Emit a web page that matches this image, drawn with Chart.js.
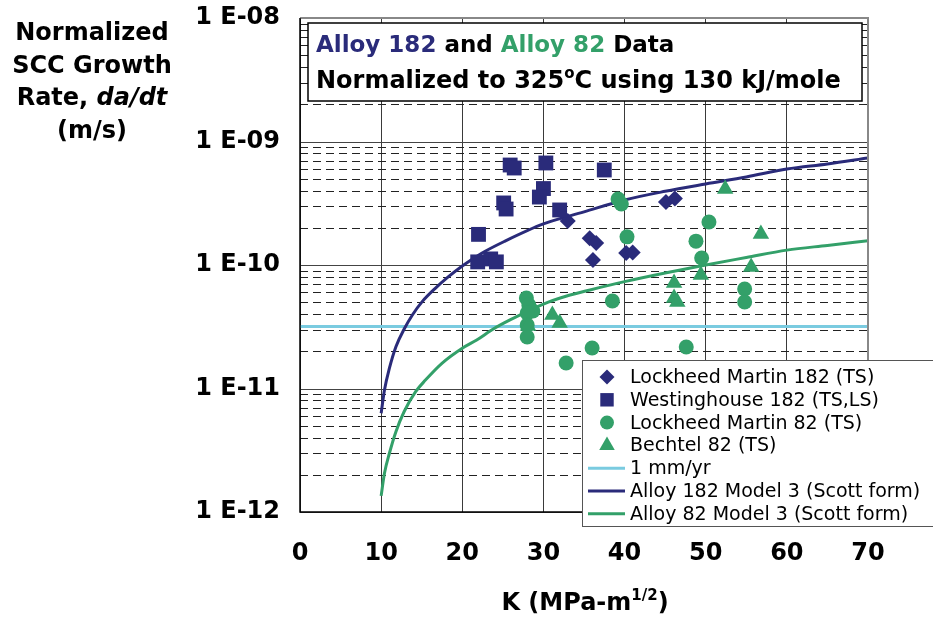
<!DOCTYPE html>
<html>
<head>
<meta charset="utf-8">
<title>Normalized SCC growth rate vs K</title>
<script src="https://cdn.jsdelivr.net/npm/chart.js@4.4.1/dist/chart.umd.min.js"></script>
<style>
  body { margin: 0; background: #fff; }
</style>
</head>
<body>
<canvas id="scc-chart" width="933" height="617"></canvas>
<script>
// K in MPa-m^1/2, normalized da/dt in m/s
const lm182K = [33.0, 35.7, 36.5, 36.1, 40.2, 41.0, 45.1, 46.2];
const lm182Rate = [2.27e-10, 1.65e-10, 1.51e-10, 1.10e-10, 1.25e-10, 1.26e-10, 3.24e-10, 3.45e-10];

const wes182K = [25.9, 26.4, 30.3, 37.5, 30.0, 29.5, 25.1, 25.4, 32.0, 22.0, 21.9, 23.5, 24.2];
const wes182Rate = [6.45e-10, 6.1e-10, 6.7e-10, 5.88e-10, 4.16e-10, 3.55e-10, 3.18e-10, 2.84e-10, 2.79e-10, 1.77e-10, 1.06e-10, 1.12e-10, 1.06e-10];

const lm82K = [39.2, 39.6, 40.3, 50.4, 48.8, 49.5, 54.8, 54.8, 38.5, 27.9, 28.2, 28.7, 28.0, 28.0, 28.0, 32.8, 36.0, 47.6];
const lm82Rate = [3.42e-10, 3.12e-10, 1.69e-10, 2.23e-10, 1.56e-10, 1.14e-10, 6.39e-11, 5.01e-11, 5.11e-11, 5.41e-11, 4.74e-11, 4.24e-11, 4.09e-11, 3.27e-11, 2.61e-11, 1.61e-11, 2.13e-11, 2.17e-11];

const bechtel82K = [52.4, 56.8, 55.6, 46.1, 49.4, 46.1, 46.5, 31.1, 32.0, 28.1];
const bechtel82Rate = [4.12e-10, 1.78e-10, 9.64e-11, 7.15e-11, 8.30e-11, 5.41e-11, 5.01e-11, 3.94e-11, 3.39e-11, 3.21e-11];

// 1 mm/yr reference rate
const mmPerYrK = [0, 70];
const mmPerYrRate = [3.17e-11, 3.17e-11];

// Model 3 (Scott form) curves
const model182K = [10, 10.41, 11.02, 11.82, 12.84, 13.85, 15.06, 16.67, 18.3, 20.0, 22.34, 25.17, 30, 35, 40, 45, 50, 55, 60, 65, 70];
const model182Rate = [6.3e-12, 9.72e-12, 1.46e-11, 2.18e-11, 3.03e-11, 3.94e-11, 5.05e-11, 6.47e-11, 8.04e-11, 9.82e-11, 1.24e-10, 1.55e-10, 2.15e-10, 2.69e-10, 3.36e-10, 3.95e-10, 4.53e-10, 5.16e-10, 5.99e-10, 6.58e-10, 7.35e-10];

const model82K = [10, 10.41, 11.02, 11.82, 12.84, 14.25, 15.46, 17.49, 20.0, 21.78, 23.82, 25.88, 30, 32.87, 35.74, 40, 45, 50, 55, 60, 65, 70];
const model82Rate = [1.35e-12, 2.06e-12, 2.99e-12, 4.47e-12, 6.51e-12, 9.42e-12, 1.17e-11, 1.6e-11, 2.12e-11, 2.47e-11, 3.03e-11, 3.59e-11, 4.83e-11, 5.61e-11, 6.28e-11, 7.33e-11, 8.61e-11, 1.0e-10, 1.15e-10, 1.32e-10, 1.44e-10, 1.57e-10];

const xTicks = [0, 10, 20, 30, 40, 50, 60, 70];
const yDecades = [1e-12, 1e-11, 1e-10, 1e-9, 1e-8];
const yMinorSteps = [2, 3, 4, 5, 6, 7, 8, 9];

const navy = "#2A2B7A";
const green = "#33A069";
const cyan = "#7ACBE0";
const family = '"DejaVu Sans", Verdana, sans-serif';

const pairs = (xs, ys) => xs.map((x, i) => ({ x: x, y: ys[i] }));
const isDecade = v => {
  const e = Math.log10(v);
  return Math.abs(e - Math.round(e)) < 1e-6;
};
const decadeLabel = v => {
  const e = Math.round(Math.log10(v));
  return "1 E-" + String(-e).padStart(2, "0");
};

// writes a row of differently styled text pieces, returns end x
function drawRuns(ctx, runs, x, y) {
  runs.forEach(r => {
    ctx.font = r.font;
    ctx.fillStyle = r.color || "#000";
    ctx.fillText(r.text, x, y + (r.dy || 0));
    x += ctx.measureText(r.text).width;
  });
  return x;
}
function runsWidth(ctx, runs) {
  let w = 0;
  runs.forEach(r => { ctx.font = r.font; w += ctx.measureText(r.text).width; });
  return w;
}

function drawMarker(ctx, style, r, x, y) {
  ctx.beginPath();
  if (style === "circle") {
    ctx.arc(x, y, r, 0, Math.PI * 2);
  } else if (style === "rect") {
    const s = r * Math.SQRT1_2;
    ctx.rect(x - s, y - s, 2 * s, 2 * s);
  } else if (style === "rectRot") {
    ctx.moveTo(x, y - r); ctx.lineTo(x + r, y); ctx.lineTo(x, y + r); ctx.lineTo(x - r, y);
    ctx.closePath();
  } else if (style === "triangle") {
    ctx.moveTo(x, y - r);
    ctx.lineTo(x + r * 0.866, y + r * 0.5);
    ctx.lineTo(x - r * 0.866, y + r * 0.5);
    ctx.closePath();
  }
  ctx.fill();
}

const sccDecor = {
  id: "sccDecor",
  beforeDatasetsDraw(chart) {
    const { ctx, chartArea: a, scales: { y } } = chart;
    ctx.save();
    ctx.lineWidth = 1;
    y.ticks.forEach(t => {
      const py = Math.round(y.getPixelForValue(t.value)) + 0.5;
      ctx.beginPath();
      if (isDecade(t.value)) {
        ctx.setLineDash([]);
        ctx.strokeStyle = "#444";
      } else {
        ctx.setLineDash([8, 5]);
        ctx.strokeStyle = "#222";
      }
      ctx.moveTo(a.left, py);
      ctx.lineTo(a.right, py);
      ctx.stroke();
    });
    ctx.restore();
  },
  afterDatasetsDraw(chart) {
    const { ctx, chartArea: a } = chart;
    ctx.save();

    // plot frame
    ctx.lineWidth = 2;
    ctx.strokeStyle = "#888";
    ctx.beginPath();
    ctx.moveTo(a.left, a.top); ctx.lineTo(a.right, a.top); ctx.lineTo(a.right, a.bottom);
    ctx.stroke();
    ctx.strokeStyle = "#000";
    ctx.lineWidth = 1.5;
    ctx.beginPath();
    ctx.moveTo(a.left, a.top); ctx.lineTo(a.left, a.bottom); ctx.lineTo(a.right, a.bottom);
    ctx.stroke();

    // heading box
    ctx.fillStyle = "#fff";
    ctx.fillRect(308, 23, 554, 78);
    ctx.strokeStyle = "#000";
    ctx.lineWidth = 1.5;
    ctx.strokeRect(308, 23, 554, 78);
    const head = "bold 23px " + family;
    const bold = "bold 24px " + family;
    ctx.textBaseline = "alphabetic";
    ctx.textAlign = "left";
    drawRuns(ctx, [
      { text: "Alloy 182", font: head, color: navy },
      { text: " and ", font: head },
      { text: "Alloy 82", font: head, color: green },
      { text: " Data", font: head }
    ], 316, 52);
    drawRuns(ctx, [
      { text: "Normalized to 325", font: bold },
      { text: "o", font: "bold 15px " + family, dy: -10 },
      { text: "C using 130 kJ/mole", font: bold }
    ], 316, 88);

    // legend
    const lx = 582, ly = 360, lw = 352, lh = 166;
    ctx.fillStyle = "#fff";
    ctx.fillRect(lx, ly, lw, lh);
    ctx.strokeStyle = "#555";
    ctx.lineWidth = 1;
    ctx.strokeRect(lx + 0.5, ly + 0.5, lw, lh);
    ctx.textBaseline = "middle";
    chart.data.datasets.forEach((ds, i) => {
      const cy = ly + 17 + i * 22.8;
      if (ds.type === "line") {
        ctx.strokeStyle = ds.borderColor;
        ctx.lineWidth = 3;
        ctx.beginPath();
        ctx.moveTo(588, cy); ctx.lineTo(625, cy);
        ctx.stroke();
      } else {
        ctx.fillStyle = ds.backgroundColor;
        drawMarker(ctx, ds.pointStyle, ds.legendRadius, 607, cy);
      }
      ctx.fillStyle = "#000";
      ctx.font = "19px " + family;
      ctx.fillText(ds.label, 630, cy + 1);
    });
    ctx.restore();
  },
  afterDraw(chart) {
    const { ctx } = chart;
    ctx.save();
    const bold = "bold 24px " + family;
    ctx.textBaseline = "alphabetic";
    ctx.textAlign = "left";
    const yTitle = [
      [{ text: "Normalized", font: bold }],
      [{ text: "SCC Growth", font: bold }],
      [{ text: "Rate, ", font: bold }, { text: "da/dt", font: "italic " + bold }],
      [{ text: "(m/s)", font: bold }]
    ];
    yTitle.forEach((runs, i) => {
      const w = runsWidth(ctx, runs);
      drawRuns(ctx, runs, 92 - w / 2, 40 + i * 32.5);
    });
    const xTitle = [
      { text: "K (MPa-m", font: bold },
      { text: "1/2", font: "bold 15px " + family, dy: -10 },
      { text: ")", font: bold }
    ];
    drawRuns(ctx, xTitle, 585 - runsWidth(ctx, xTitle) / 2, 610);
    ctx.restore();
  }
};

const markerSet = (label, xs, ys, style, radius, legendRadius, color, order) => ({
  label: label,
  data: pairs(xs, ys),
  pointStyle: style,
  pointRadius: radius,
  legendRadius: legendRadius,
  backgroundColor: color,
  borderColor: color,
  borderWidth: 0,
  order: order
});

const curveSet = (label, xs, ys, color, order) => ({
  type: "line",
  label: label,
  data: pairs(xs, ys),
  borderColor: color,
  backgroundColor: color,
  borderWidth: 3,
  pointRadius: 0,
  fill: false,
  cubicInterpolationMode: "monotone",
  order: order
});

const chart = new Chart(document.getElementById("scc-chart"), {
  type: "scatter",
  data: {
    datasets: [
      markerSet("Lockheed Martin 182 (TS)", lm182K, lm182Rate, "rectRot", 8, 7.5, navy, 4),
      markerSet("Westinghouse 182 (TS,LS)", wes182K, wes182Rate, "rect", 10.5, 9.5, navy, 3),
      markerSet("Lockheed Martin 82 (TS)", lm82K, lm82Rate, "circle", 7.5, 7, green, 2),
      markerSet("Bechtel 82 (TS)", bechtel82K, bechtel82Rate, "triangle", 9.5, 9, green, 1),
      curveSet("1 mm/yr", mmPerYrK, mmPerYrRate, cyan, 7),
      curveSet("Alloy 182 Model 3 (Scott form)", model182K, model182Rate, navy, 6),
      curveSet("Alloy 82 Model 3 (Scott form)", model82K, model82Rate, green, 5)
    ]
  },
  options: {
    responsive: false,
    animation: false,
    events: [],
    layout: { padding: { left: 0, right: 65, top: 18, bottom: 0 } },
    plugins: {
      legend: { display: false },
      tooltip: { enabled: false }
    },
    scales: {
      x: {
        type: "linear",
        min: 0,
        max: 70,
        afterBuildTicks: scale => { scale.ticks = xTicks.map(v => ({ value: v })); },
        afterFit: scale => {
          scale.height = 105;
          scale.paddingLeft = 0;
          scale.paddingRight = 0;
        },
        grid: { color: "#3a3a3a", lineWidth: 1, drawTicks: false },
        border: { display: false },
        ticks: {
          padding: 27,
          color: "#000",
          font: { family: family, size: 24, weight: "bold" }
        }
      },
      y: {
        type: "logarithmic",
        min: 1e-12,
        max: 1e-8,
        afterBuildTicks: scale => {
          const ticks = [];
          yDecades.forEach((d, i) => {
            ticks.push({ value: d, major: true });
            if (i < yDecades.length - 1) {
              yMinorSteps.forEach(m => ticks.push({ value: m * d, major: false }));
            }
          });
          scale.ticks = ticks;
        },
        afterFit: scale => {
          scale.width = 300;
          scale.paddingTop = 0;
          scale.paddingBottom = 0;
        },
        grid: { display: false },
        border: { display: false },
        ticks: {
          autoSkip: false,
          padding: 12,
          color: "#000",
          font: { family: family, size: 24, weight: "bold" },
          callback: value => isDecade(value) ? decadeLabel(value) : ""
        }
      }
    }
  },
  plugins: [sccDecor]
});
</script>
</body>
</html>
